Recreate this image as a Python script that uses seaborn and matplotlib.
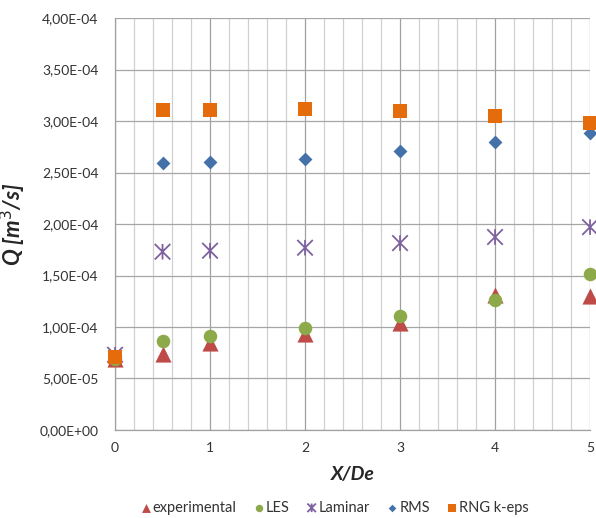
import numpy as np
import pandas as pd
import matplotlib
matplotlib.use("Agg")
import matplotlib.pyplot as plt
from matplotlib.path import Path
from matplotlib.ticker import FuncFormatter, MultipleLocator
import seaborn as sns

# Axial position (X/De) and volumetric flow Q [m^3/s] for each model
x_de = [0, 0.5, 1, 2, 3, 4, 5]
experimental = [0.69e-4, 0.735e-4, 0.84e-4, 0.93e-4, 1.035e-4, 1.31e-4, 1.30e-4]
les = [0.69e-4, 0.867e-4, 0.915e-4, 0.993e-4, 1.11e-4, 1.262e-4, 1.51e-4]
laminar = [0.73e-4, 1.731e-4, 1.741e-4, 1.77e-4, 1.815e-4, 1.874e-4, 1.97e-4]
rms = [0.72e-4, 2.592e-4, 2.60e-4, 2.634e-4, 2.709e-4, 2.793e-4, 2.88e-4]
rng_keps = [0.71e-4, 3.104e-4, 3.105e-4, 3.113e-4, 3.097e-4, 3.05e-4, 2.98e-4]

series_names = ["experimental", "LES", "Laminar", "RMS", "RNG k-eps"]
series_values = [experimental, les, laminar, rms, rng_keps]

df = pd.DataFrame({
    "X/De": np.tile(x_de, len(series_names)),
    "Q": np.concatenate(series_values),
    "serie": np.repeat(series_names, len(x_de)),
})

# Asterisk: an X with a vertical bar through it
star = Path(
    [(-1, -1), (1, 1), (-1, 1), (1, -1), (0, -1), (0, 1)],
    [Path.MOVETO, Path.LINETO, Path.MOVETO, Path.LINETO, Path.MOVETO, Path.LINETO],
)

styles = {
    "experimental": dict(marker="^", color="#BE4B48", s=135),
    "LES": dict(marker="o", color="#8DAA4A", s=95),
    "Laminar": dict(marker=star, color="#7E62A0", s=125),
    "RMS": dict(marker="D", color="#4471AA", s=50),
    "RNG k-eps": dict(marker="s", color="#E46C0A", s=92),
}

sns.set_theme(style="white")
plt.rcParams["font.family"] = ["Lato", "DejaVu Sans"]

fig = plt.figure(figsize=(5.96, 5.18), dpi=100)
ax = fig.add_axes([0.193, 0.170, 0.797, 0.795])

for name in series_names:
    st = styles[name]
    sub = df[df["serie"] == name]
    if name == "Laminar":
        kw = dict(linewidth=1.3, facecolor="none", edgecolor=st["color"])
    else:
        kw = dict(linewidth=0)
    sns.scatterplot(data=sub, x="X/De", y="Q", ax=ax, marker=st["marker"],
                    color=st["color"], s=st["s"], label=name, zorder=3,
                    clip_on=False, **kw)

ax.set_xlim(0, 5)
ax.set_ylim(0, 4e-4)
ax.xaxis.set_major_locator(MultipleLocator(1))
ax.xaxis.set_minor_locator(MultipleLocator(0.2))
ax.yaxis.set_major_locator(MultipleLocator(0.5e-4))


def sci_comma(v, pos):
    return f"{v:.2E}".replace(".", ",")


ax.yaxis.set_major_formatter(FuncFormatter(sci_comma))

ax.grid(True, which="minor", axis="x", color="#D0D0D0", linewidth=0.9, zorder=0)
ax.grid(True, which="major", axis="x", color="#A0A0A0", linewidth=0.9, zorder=0)
ax.grid(True, which="major", axis="y", color="#A6A6A6", linewidth=0.9, zorder=0)
ax.set_axisbelow(True)

for side in ["top", "right"]:
    ax.spines[side].set_visible(False)
for side in ["left", "bottom"]:
    ax.spines[side].set_color("#A0A0A0")
    ax.spines[side].set_linewidth(0.9)

ax.tick_params(axis="both", which="both", length=0, labelsize=10, colors="#333333")
ax.tick_params(axis="y", pad=12)
ax.tick_params(axis="x", pad=9)

ax.set_xlabel("X/De", fontsize=14, fontweight="bold", fontstyle="italic", labelpad=8)
ax.set_ylabel("Q [m$^3$/s]", fontsize=16, fontweight="bold", fontstyle="italic", labelpad=8)

if ax.legend_:
    ax.legend_.remove()
handles, labels = ax.get_legend_handles_labels()
fig.legend(handles, labels, loc="center", bbox_to_anchor=(0.561, 0.02), ncol=5,
           frameon=False, fontsize=10.5, markerscale=0.55, handletextpad=0.1,
           columnspacing=1.1, handlelength=0.8, labelcolor="#333333")

fig.savefig("out.png", dpi=100)
